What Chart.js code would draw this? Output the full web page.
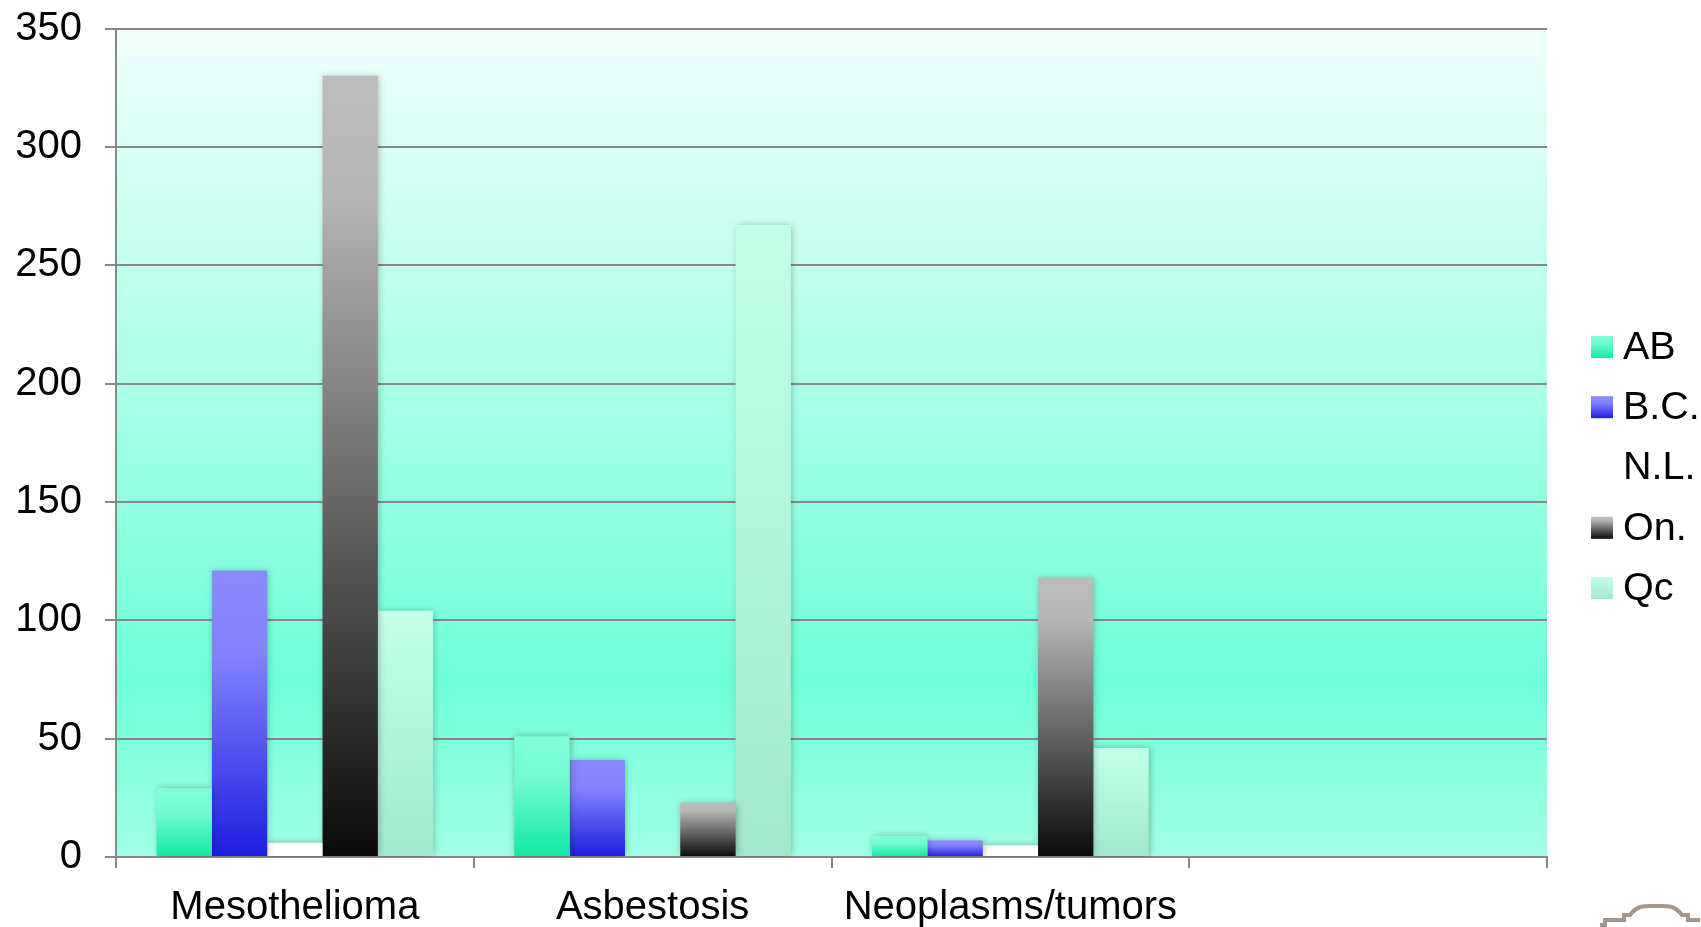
<!DOCTYPE html>
<html>
<head>
<meta charset="utf-8">
<script src="https://cdn.jsdelivr.net/npm/chart.js@4.4.1/dist/chart.umd.min.js"></script>
<style>
  html, body { margin: 0; padding: 0; background: #fff; }
  #wrap { width: 1701px; height: 927px; }
</style>
</head>
<body>
<div id="wrap"><canvas id="chart"></canvas></div>
<script>
// --- data ---
const categories = ['Mesothelioma', 'Asbestosis', 'Neoplasms/tumors', ''];
const seriesNames = ['AB', 'B.C.', 'N.L.', 'On.', 'Qc'];
const abValues = [29, 51, 9, null];
const bcValues = [121, 41, 7, null];
const nlValues = [6, 0, 5, null];
const onValues = [330, 23, 118, null];
const qcValues = [104, 267, 46, null];
const yTicks = [0, 50, 100, 150, 200, 250, 300, 350];

// --- styles ---
const FONT = '"Liberation Sans", Arial, sans-serif';
const GRID = '#888888';
const barStops = [
  [[0, '#82ffd9'], [0.35, '#72fbd1'], [1, '#10e9a2']],
  [[0, '#8a8aff'], [0.3, '#8282fd'], [1, '#1d1de0']],
  [[0, '#ffffff'], [1, '#ffffff']],
  [[0, '#bcbcbc'], [0.15, '#b6b6b6'], [1, '#0a0a0a']],
  [[0, '#c2ffe9'], [1, '#a2e8cc']]
];
const plotStops = [[0, '#f0fffb'], [0.79, '#6effd8'], [1, '#a2ffe6']];

function gradient(ctx, y0, y1, stops) {
  const g = ctx.createLinearGradient(0, y0, 0, y1);
  stops.forEach(([o, c]) => g.addColorStop(o, c));
  return g;
}

// each bar gets its own top-to-bottom gradient
function barFill(stops) {
  return (c) => {
    const chart = c.chart;
    if (c.type !== 'data' || !c.parsed) return stops[0][1];
    const y = chart.scales.y;
    const top = y.getPixelForValue(c.parsed.y);
    const base = y.getPixelForValue(0);
    if (!isFinite(top) || Math.abs(base - top) < 1) return stops[stops.length - 1][1];
    return gradient(chart.ctx, top, base, stops);
  };
}

const plotBackground = {
  id: 'plotBackground',
  beforeDraw(chart) {
    const { ctx, chartArea: a } = chart;
    ctx.save();
    ctx.fillStyle = gradient(ctx, a.top, a.bottom, plotStops);
    ctx.fillRect(a.left, a.top, a.right - a.left, a.bottom - a.top);
    ctx.restore();
  }
};

const barShadow = {
  id: 'barShadow',
  beforeDatasetsDraw(chart) {
    const ctx = chart.ctx;
    ctx.save();
    ctx.shadowColor = 'rgba(0,0,0,0.28)';
    ctx.shadowBlur = 7;
    ctx.shadowOffsetX = 1;
    ctx.shadowOffsetY = 0;
  },
  afterDatasetsDraw(chart) {
    chart.ctx.restore();
  }
};

// legend on the right, boxes flush with the text like the original
const sideLegend = {
  id: 'sideLegend',
  afterDraw(chart) {
    const { ctx, chartArea: a } = chart;
    const boxX = a.right + 44, box = 22, rowGap = 60.3;
    const midY = (chart.height / 2) + 4;
    ctx.save();
    ctx.font = `39.5px ${FONT}`;
    ctx.textBaseline = 'middle';
    ctx.textAlign = 'left';
    seriesNames.forEach((name, i) => {
      const cy = midY + (i - 2) * rowGap;
      ctx.fillStyle = gradient(ctx, cy - box / 2, cy + box / 2, barStops[i]);
      ctx.fillRect(boxX, cy - box / 2, box, box);
      ctx.fillStyle = '#000';
      ctx.fillText(name, boxX + 32, cy + 1);
    });
    ctx.restore();
  }
};

// bit of the slide logo peeking in at the bottom right corner
const cornerLogo = {
  id: 'cornerLogo',
  afterDraw(chart) {
    const ctx = chart.ctx;
    ctx.save();
    ctx.strokeStyle = '#a3968b';
    ctx.lineWidth = 4;
    ctx.beginPath();
    ctx.moveTo(1600, 925); ctx.lineTo(1605, 925); ctx.lineTo(1605, 920);
    ctx.lineTo(1624, 920); ctx.lineTo(1624, 915); ctx.lineTo(1630, 915);
    ctx.bezierCurveTo(1638, 904, 1648, 906, 1656, 906);
    ctx.bezierCurveTo(1664, 906, 1674, 904, 1682, 915);
    ctx.lineTo(1688, 915); ctx.lineTo(1688, 920); ctx.lineTo(1700, 920);
    ctx.stroke();
    ctx.restore();
  }
};

const seriesValues = [abValues, bcValues, nlValues, onValues, qcValues];

new Chart(document.getElementById('chart'), {
  type: 'bar',
  data: {
    labels: categories,
    datasets: seriesNames.map((name, i) => ({
      label: name,
      data: seriesValues[i],
      backgroundColor: barFill(barStops[i]),
      borderWidth: 0,
      categoryPercentage: 0.773,
      barPercentage: 1.0
    }))
  },
  options: {
    responsive: true,
    maintainAspectRatio: false,
    animation: false,
    layout: { padding: { top: 28.5, right: 154, bottom: 0, left: 0 } },
    plugins: {
      legend: { display: false },
      tooltip: { enabled: false }
    },
    scales: {
      x: {
        afterFit: (axis) => { axis.height = 70; },
        grid: { drawOnChartArea: false, color: GRID, lineWidth: 2, tickLength: 11, offset: true },
        border: { color: GRID, width: 2 },
        ticks: {
          color: '#000', padding: 18, maxRotation: 0, autoSkip: false,
          font: { family: FONT, size: 40, lineHeight: 1.1 }
        }
      },
      y: {
        min: 0,
        max: yTicks[yTicks.length - 1],
        afterBuildTicks: (axis) => { axis.ticks = yTicks.map(v => ({ value: v })); },
        afterFit: (axis) => {
          axis.width = 116;
          axis.paddingTop = 0;
          axis.paddingBottom = 0;
        },
        grid: { color: GRID, lineWidth: 2, tickLength: 11 },
        border: { color: GRID, width: 2 },
        ticks: {
          color: '#000', padding: 23,
          font: { family: FONT, size: 40, lineHeight: 1.1 }
        }
      }
    }
  },
  plugins: [plotBackground, barShadow, sideLegend, cornerLogo]
});
</script>
</body>
</html>
